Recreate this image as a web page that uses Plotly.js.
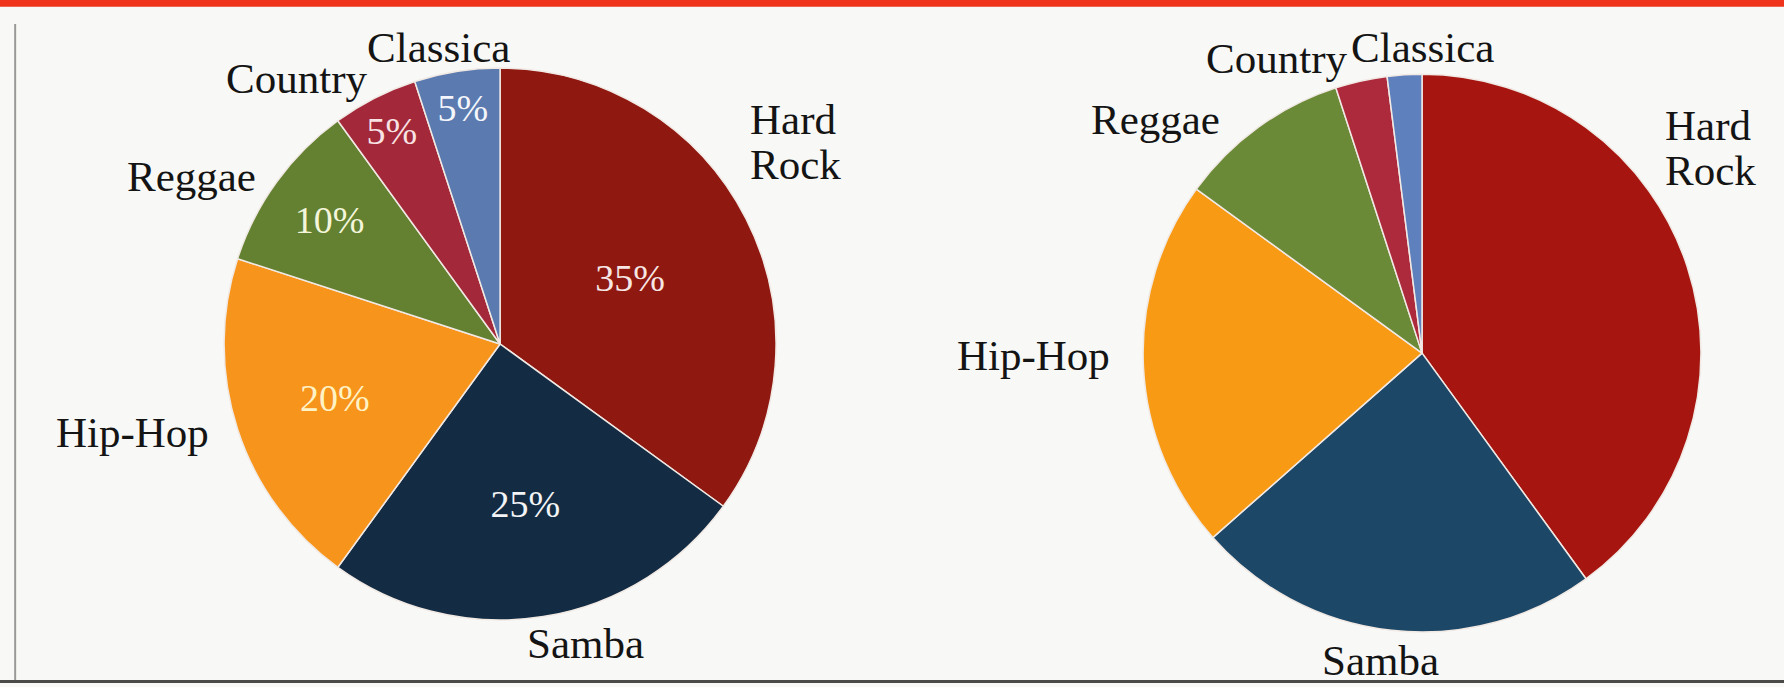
<!DOCTYPE html>
<html>
<head>
<meta charset="utf-8">
<script src="https://cdn.plot.ly/plotly-3.0.1.min.js"></script>
<style>
html,body{margin:0;padding:0;background:#f8f8f6;}
#chart{width:1784px;height:687px;}
</style>
</head>
<body>
<div id="chart"></div>
<script>
// Genres (clockwise from 12 o'clock)
const genres = ["Hard<br>Rock", "Samba", "Hip-Hop", "Reggae", "Country", "Classica"];
// Left pie shares (percent)
const leftValues = [35, 25, 20, 10, 5, 5];
// Right pie shares
const rightValues = [40, 23.5, 21.5, 10, 3, 2];

const leftColors = ["#8f1811", "#142c43", "#f7941c", "#648131", "#a3283a", "#5b7aaf"];
const rightColors = ["#a6150f", "#1d4767", "#f89a14", "#6b8a38", "#ad2a3c", "#5e80bd"];
const insideColors = ["#f6e6e4", "#f2f4f6", "#fff3c6", "#f4f6dc", "#f8e2e4", "#f4f6fb"];

// Label placement (pixel centres in the 1784x687 page; "left" anchors for Hard Rock)
const leftLabelPos = [[748, 142, "left"], [585, 643], [132, 432], [191, 176], [296, 78], [438, 47]];
const rightLabelPos = [[1663, 148, "left"], [1380, 660], [1033, 355], [1155, 119], [1276, 58], [1422, 47]];

const W = 1784, H = 687;
const serif = "Liberation Serif, DejaVu Serif, serif";
const leftDomain = {x: [0.1256, 0.4350], y: [0.0975, 0.901]};
const rightDomain = {x: [0.6407, 0.9535], y: [0.080, 0.892]};
const labelSize = 43, lineGap = 45;

function labelAnnotations(pos) {
  const out = [];
  genres.forEach((g, i) => {
    const [px, py, anchor] = pos[i];
    const lines = g.split("<br>");
    lines.forEach((ln, k) => {
      const yy = py + (k - (lines.length - 1) / 2) * lineGap;
      out.push({
        xref: "paper", yref: "paper", x: px / W, y: 1 - yy / H,
        xanchor: anchor || "center", yanchor: "middle", align: "left",
        text: ln, showarrow: false,
        font: {family: serif, size: labelSize, color: "#141414"}
      });
    });
  });
  return out;
}

const data = [
  {
    type: "pie", labels: genres, values: leftValues, sort: false,
    direction: "clockwise", rotation: 0, domain: leftDomain,
    marker: {colors: leftColors, line: {color: "#f1e9e4", width: 1.5}},
    textinfo: "percent", textposition: "inside", insidetextorientation: "horizontal",
    insidetextfont: {family: serif, size: 38, color: insideColors},
    showlegend: false, hoverinfo: "label+percent"
  },
  {
    type: "pie", labels: genres, values: rightValues, sort: false,
    direction: "clockwise", rotation: 0, domain: rightDomain,
    marker: {colors: rightColors, line: {color: "#f1e9e4", width: 1.5}},
    textinfo: "none",
    showlegend: false, hoverinfo: "label+percent"
  }
];

const layout = {
  width: W, height: H,
  margin: {l: 0, r: 0, t: 0, b: 0},
  paper_bgcolor: "#f8f8f6",
  showlegend: false,
  annotations: labelAnnotations(leftLabelPos).concat(labelAnnotations(rightLabelPos)),
  shapes: [
    {type: "rect", xref: "paper", yref: "paper", x0: 0, x1: 1, y0: 0.99, y1: 1,
     fillcolor: "#f0341c", line: {width: 0}},
    {type: "line", xref: "paper", yref: "paper", x0: 0.0085, x1: 0.0085, y0: 0.01, y1: 0.965,
     line: {color: "#9a9a98", width: 2}},
    {type: "line", xref: "paper", yref: "paper", x0: 0, x1: 1, y0: 0.008, y1: 0.008,
     line: {color: "#4a4a48", width: 3}}
  ]
};

Plotly.newPlot("chart", data, layout, {displayModeBar: false, staticPlot: true});
</script>
</body>
</html>
